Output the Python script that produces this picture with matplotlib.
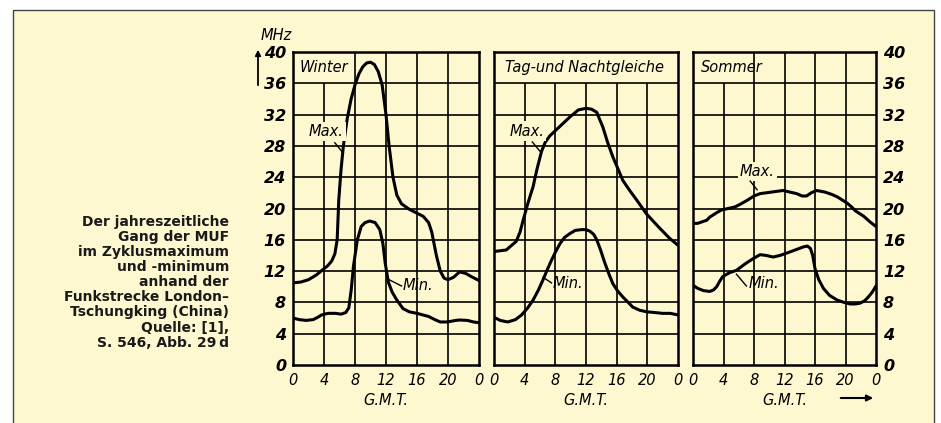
"""MUF-Tagesgang London - Tschungking, Winter / Tag-und Nachtgleiche / Sommer."""

import matplotlib
matplotlib.use('Agg')
import matplotlib.pyplot as plt
from matplotlib.patches import Rectangle, FancyArrowPatch

# ---- data (hours G.M.T. -> MHz) ----
winter_max_h = [0, 1, 2, 3, 4, 4.5, 5, 5.4, 5.7, 5.9, 6.2, 6.5, 7.0, 7.5, 8.0, 8.5,
                9.0, 9.5, 10.0, 10.5, 11.0, 11.5, 12.0, 12.4, 12.9, 13.4, 14.0, 15.0,
                16.0, 16.8, 17.5, 17.9, 18.5, 19.0, 19.5, 20.0, 20.7, 21.5, 22.3, 23.0, 24.0]
winter_max = [10.5, 10.6, 10.9, 11.5, 12.3, 12.7, 13.3, 14.2, 16.0, 21.0, 25.0, 28.0,
              31.5, 34.0, 35.8, 37.2, 38.1, 38.6, 38.7, 38.4, 37.5, 35.8, 32.0, 28.0,
              24.0, 21.7, 20.6, 19.9, 19.4, 19.0, 18.2, 17.0, 14.0, 12.0, 11.1, 10.9,
              11.2, 11.9, 11.7, 11.3, 10.8]

winter_min_h = [0, 0.8, 1.7, 2.6, 3.2, 3.7, 4.5, 5.5, 6.2, 6.8, 7.2, 7.5, 7.8, 8.3, 8.8,
                9.3, 9.9, 10.6, 11.2, 11.6, 11.9, 12.3, 12.8, 13.4, 14.2, 15.0, 16.0,
                17.5, 18.3, 19.0, 19.9, 21.0, 21.5, 22.5, 23.3, 24]
winter_min = [6.0, 5.8, 5.7, 5.8, 6.1, 6.4, 6.6, 6.6, 6.5, 6.7, 7.3, 9.5, 12.6, 16.0,
              17.7, 18.2, 18.4, 18.2, 17.3, 15.5, 13.0, 10.6, 9.3, 8.3, 7.2, 6.8, 6.6,
              6.2, 5.8, 5.5, 5.5, 5.7, 5.75, 5.7, 5.5, 5.4]

tag_max_h = [0, 1.6, 2.9, 3.4, 3.8, 4.4, 5.1, 5.6, 6.2, 6.7, 7.3, 8.6, 9.9, 11.0, 12.0,
             12.7, 13.4, 14.2, 14.8, 15.5, 16.2, 16.8, 17.7, 18.6, 19.9, 21.6, 22.9, 24]
tag_max = [14.5, 14.7, 15.8, 17.0, 18.5, 20.6, 22.8, 25.0, 27.3, 28.5, 29.3, 30.5, 31.7,
           32.6, 32.8, 32.7, 32.3, 30.4, 28.5, 26.6, 25.0, 23.6, 22.3, 21.1, 19.3, 17.5,
           16.2, 15.3]

tag_min_h = [0, 0.8, 1.8, 2.8, 3.6, 4.4, 5.1, 5.8, 6.4, 7.0, 7.5, 8.0, 8.6, 9.2, 9.9,
             10.6, 11.4, 12.0, 12.5, 13.0, 13.4, 13.9, 14.4, 15.0, 15.5, 16.1, 16.8,
             17.5, 18.1, 19.0, 19.9, 21.0, 22.0, 23.0, 24]
tag_min = [6.1, 5.7, 5.5, 5.8, 6.4, 7.3, 8.3, 9.6, 10.9, 12.3, 13.4, 14.4, 15.5, 16.3,
           16.8, 17.2, 17.3, 17.3, 17.1, 16.7, 16.0, 14.7, 13.2, 11.6, 10.4, 9.5, 8.7,
           8.0, 7.4, 7.0, 6.8, 6.7, 6.6, 6.6, 6.4]

sommer_max_h = [0, 0.6, 1.8, 2.2, 3.0, 3.7, 4.6, 5.5, 6.3, 7.2, 8.0, 8.8, 10.3, 11.8,
                12.7, 13.6, 14.3, 14.9, 15.5, 16.2, 17.3, 18.2, 18.9, 20.2, 20.8, 21.3,
                22.4, 23.2, 24]
sommer_max = [18.1, 18.1, 18.5, 18.9, 19.4, 19.8, 20.0, 20.2, 20.6, 21.1, 21.6, 21.9,
              22.1, 22.3, 22.1, 21.9, 21.6, 21.6, 22.0, 22.3, 22.1, 21.8, 21.5, 20.7,
              20.2, 19.7, 19.0, 18.3, 17.7]

sommer_min_h = [0, 0.6, 1.4, 2.2, 2.7, 3.1, 3.5, 3.9, 4.8, 5.7, 6.8, 7.9, 8.8, 9.6, 10.5,
                11.4, 12.3, 13.4, 14.5, 15.0, 15.4, 15.7, 16.0, 16.5, 17.1, 17.9, 18.9,
                19.8, 20.6, 21.3, 21.9, 22.5, 23.0, 23.5, 24]
sommer_min = [10.2, 9.8, 9.5, 9.4, 9.6, 10.0, 10.7, 11.3, 11.8, 12.1, 12.9, 13.6, 14.1,
              14.0, 13.8, 14.0, 14.3, 14.7, 15.1, 15.2, 14.9, 14.0, 12.3, 10.9, 9.8, 8.9,
              8.3, 8.0, 7.8, 7.8, 7.9, 8.2, 8.7, 9.3, 10.1]

seasons = ['Winter', 'Tag-und Nachtgleiche', 'Sommer']
hour_ticks = [0, 4, 8, 12, 16, 20, 24]
hour_labels = ['0', '4', '8', '12', '16', '20', '0']
mhz_ticks = [0, 4, 8, 12, 16, 20, 24, 28, 32, 36, 40]

caption_lines = ['Der jahreszeitliche', 'Gang der MUF', 'im Zyklusmaximum',
                 'und -minimum', 'anhand der', 'Funkstrecke London\u2013',
                 'Tschungking (China)']
source_lines = ['Quelle: [1],', 'S. 546, Abb. 29\u2009d']

BG = '#fdf8d0'
W, H = 941, 423

fig = plt.figure(figsize=(W / 100, H / 100), dpi=100)
fig.patch.set_facecolor('white')
# yellow panel with thin grey border (bottom runs off the image)
fig.patches.append(Rectangle((13 / W, -0.05), (934 - 13) / W, (423 - 10) / H + 0.05,
                             transform=fig.transFigure, facecolor=BG,
                             edgecolor='#444444', linewidth=1.0, zorder=-10))

font = {'family': 'DejaVu Sans', 'style': 'italic'}

# panel pixel extents (left, right), shared top/bottom
panels_px = [(293, 479), (494, 678), (693, 876)]
top_px, bot_px = 52, 365

series = [
    (winter_max_h, winter_max, winter_min_h, winter_min),
    (tag_max_h, tag_max, tag_min_h, tag_min),
    (sommer_max_h, sommer_max, sommer_min_h, sommer_min),
]
# grid lines hidden in the top row behind the title
hidden_vlines = [[4], [4, 8, 12, 16, 20], [4]]
title_pos = [(0.9, 38.0), (1.4, 38.0), (1.1, 38.0)]

# label text position, leader start, leader end
max_labels = [((4.3, 29.8), (5.4, 28.4), (6.3, 27.3)),
              ((4.3, 29.9), (5.0, 28.5), (6.1, 27.2)),
              ((8.4, 24.7), (7.5, 23.5), (8.4, 22.4))]
min_labels = [((14.2, 10.1), (12.4, 10.9), (14.0, 10.1)),
              ((7.7, 10.4), (6.4, 11.2), (7.5, 10.5)),
              ((7.3, 10.4), (5.7, 11.6), (7.0, 10.1))]

axes = []
for i, (l, r) in enumerate(panels_px):
    ax = fig.add_axes([l / W, 1 - bot_px / H, (r - l) / W, (bot_px - top_px) / H])
    ax.set_facecolor(BG)
    ax.set_xlim(0, 24)
    ax.set_ylim(0, 40)
    for s in ax.spines.values():
        s.set_linewidth(1.8)
    # grid
    for y in mhz_ticks[1:-1]:
        ax.axhline(y, color='black', lw=1.2, zorder=1)
    for x in hour_ticks[1:-1]:
        ytop = 36 if x in hidden_vlines[i] else 40
        ax.vlines(x, 0, ytop, color='black', lw=1.2, zorder=1)

    hmax, vmax, hmin, vmin = series[i]
    ax.plot(hmax, vmax, color='black', lw=2.2, solid_capstyle='round',
            solid_joinstyle='round', zorder=3)
    ax.plot(hmin, vmin, color='black', lw=2.2, solid_capstyle='round',
            solid_joinstyle='round', zorder=3)

    ax.text(title_pos[i][0], title_pos[i][1], seasons[i], ha='left', va='center',
            fontsize=10.5, **font)

    (tx, ty), p0, p1 = max_labels[i]
    ax.text(tx, ty, 'Max.', ha='center', va='center', fontsize=10.5, zorder=4,
            bbox=dict(facecolor=BG, edgecolor='none', pad=1.5), **font)
    ax.plot([p0[0], p1[0]], [p0[1], p1[1]], color='black', lw=1.0, zorder=4)
    (tx, ty), p0, p1 = min_labels[i]
    ax.text(tx, ty, 'Min.', ha='left', va='center', fontsize=10.5, zorder=4, **font)
    ax.plot([p0[0], p1[0]], [p0[1], p1[1]], color='black', lw=1.0, zorder=4)

    ax.set_xticks(hour_ticks)
    ax.set_xticklabels(hour_labels, fontsize=10.5, **font)
    ax.tick_params(axis='x', length=0, pad=6)
    ax.set_yticks(mhz_ticks)
    if i == 0:
        ax.set_yticklabels([str(v) for v in mhz_ticks], fontsize=11.5,
                           fontweight='bold', **font)
        ax.tick_params(axis='y', length=0, pad=5)
    elif i == 2:
        ax.yaxis.tick_right()
        ax.set_yticklabels([str(v) for v in mhz_ticks], fontsize=11.5,
                           fontweight='bold', **font)
        ax.tick_params(axis='y', length=0, pad=5)
    else:
        ax.set_yticklabels([])
        ax.tick_params(axis='y', length=0)
    ax.set_xlabel('G.M.T.', fontsize=10.5, labelpad=3, **font)
    axes.append(ax)

# unit label and arrow on the left axis
fig.text(276 / W, 1 - 36 / H, 'MHz', ha='center', va='center', fontsize=10.5, **font)
fig.patches.append(FancyArrowPatch((258 / W, 1 - 88 / H), (258 / W, 1 - 47 / H),
                                   transform=fig.transFigure, arrowstyle='-|>',
                                   mutation_scale=8, lw=1.3, color='black'))
# time arrow bottom right
fig.patches.append(FancyArrowPatch((838 / W, 1 - 398 / H), (876 / W, 1 - 398 / H),
                                   transform=fig.transFigure, arrowstyle='-|>',
                                   mutation_scale=9, lw=1.5, color='black'))

# caption on the left
cap_font = {'family': 'DejaVu Sans', 'weight': 'bold', 'fontsize': 10}
for k, line in enumerate(caption_lines):
    fig.text(229 / W, 1 - (222 + 15 * k) / H, line, ha='right', va='center',
             color='#1a1a1a', **cap_font)
for k, line in enumerate(source_lines):
    fig.text(229 / W, 1 - (328 + 15 * k) / H, line, ha='right', va='center',
             color='#1a1a1a', **cap_font)

fig.savefig('out.png', dpi=100, facecolor=fig.get_facecolor())
